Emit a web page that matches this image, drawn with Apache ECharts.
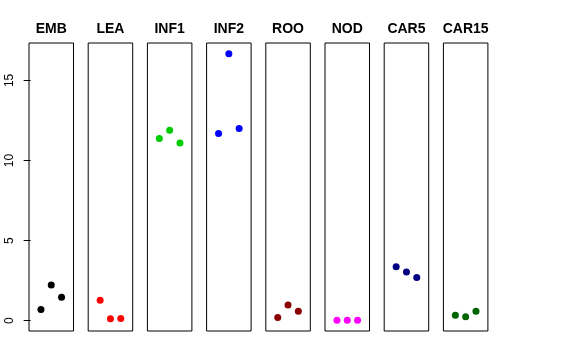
<!DOCTYPE html>
<html><head><meta charset="utf-8">
<script src="https://cdn.jsdelivr.net/npm/echarts@6/dist/echarts.min.js"></script>
<style>html,body{margin:0;padding:0;background:#fff}#c{width:576px;height:360px}</style>
</head><body><div id="c"></div>
<script>
const panels = ["EMB","LEA","INF1","INF2","ROO","NOD","CAR5","CAR15"];
const colors = ["#000000","#FF0000","#00CD00","#0000FF","#8B0000","#FF00FF","#000080","#006400"];
const xPos = [1,2,3];
const EMB = [0.69, 2.23, 1.46];
const LEA = [1.27, 0.12, 0.14];
const INF1 = [11.37, 11.89, 11.10];
const INF2 = [11.69, 16.67, 12.00];
const ROO = [0.19, 0.98, 0.58];
const NOD = [0.02, 0.02, 0.02];
const CAR5 = [3.37, 3.04, 2.69];
const CAR15 = [0.33, 0.25, 0.58];
const yTicks = [0, 5, 10, 15];
const values = [EMB, LEA, INF1, INF2, ROO, NOD, CAR5, CAR15];

(function () {
const allV = values.flat();
const vmin = Math.min(...allV), vmax = Math.max(...allV);
const ext = (vmax - vmin) * 0.04;
const yMin = vmin - ext, yMax = vmax + ext;

const left0 = 29, step = 59.2, w = 44.5, gTop = 43, h = 288;
const grid = [], xAxis = [], yAxis = [], series = [], graphic = [];
panels.forEach((p, i) => {
  const l = left0 + i * step;
  grid.push({left: l, top: gTop, width: w, height: h, show: true, borderColor: '#000', borderWidth: 1, backgroundColor: 'transparent'});
  xAxis.push({gridIndex: i, type: 'value', min: -0.16, max: 4.16, show: false});
  yAxis.push({gridIndex: i, type: 'value', min: yMin, max: yMax, show: i === 0,
    splitLine: {show: false}, axisLine: {show: false},
    axisTick: {show: i === 0, length: 7, customValues: yTicks, lineStyle: {color: '#000'}},
    axisLabel: {show: i === 0, customValues: yTicks, rotate: 90, margin: 13, color: '#000', fontSize: 12, fontFamily: 'Liberation Sans, Arial, sans-serif'}
  });
  series.push({type: 'scatter', xAxisIndex: i, yAxisIndex: i, symbol: 'circle', symbolSize: 7,
    itemStyle: {color: colors[i], opacity: 1}, silent: true,
    data: values[i].map((v, k) => [xPos[k], v])});
  graphic.push({type: 'text', x: l + w / 2, y: 29, silent: true,
    style: {text: p, textAlign: 'center', textVerticalAlign: 'middle', fill: '#000',
      font: 'bold 14px "Liberation Sans", Arial, sans-serif'}});
});

const chart = echarts.init(document.getElementById('c'), null, {renderer: 'canvas'});
chart.setOption({animation: false, backgroundColor: '#fff', graphic, grid, xAxis, yAxis, series});
})();
</script></body></html>
